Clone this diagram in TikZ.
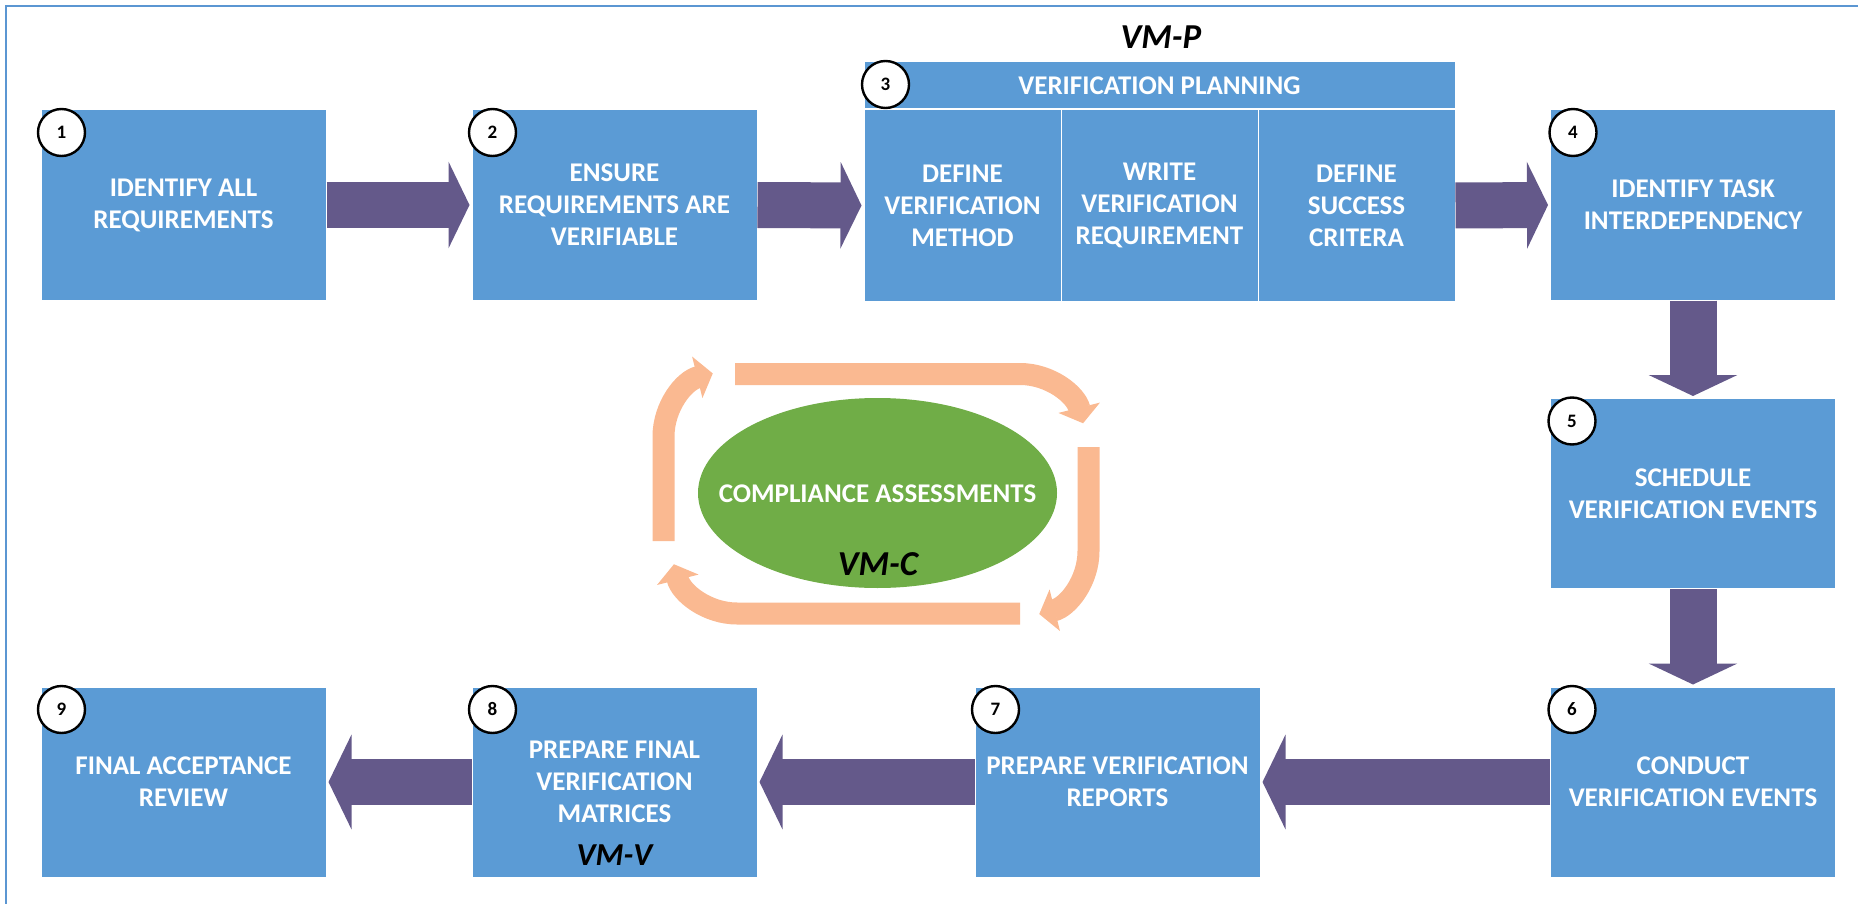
\documentclass[tikz,border=0pt]{standalone}
\usepackage{fontspec}
\setmainfont{Carlito}
\usetikzlibrary{arrows.meta,shapes.geometric,calc}
\definecolor{boxblue}{RGB}{91,155,213}
\definecolor{framecol}{RGB}{91,150,210}
\definecolor{arrowpurple}{RGB}{100,89,138}
\definecolor{loopor}{RGB}{250,185,145}
\definecolor{ellgreen}{RGB}{112,173,71}
\tikzset{
  stepbox/.style={rectangle, fill=boxblue, draw=white, line width=1pt, minimum width=285pt, minimum height=190pt, inner sep=0pt, align=center, text=white, font=\bfseries\fontsize{27}{32}\selectfont},
  cellbox/.style={stepbox, minimum width=197pt, minimum height=191pt},
  headbox/.style={stepbox, minimum width=591pt, minimum height=47pt},
  numcirc/.style={circle, fill=white, draw=black, line width=2.4pt, minimum size=47pt, inner sep=0pt, font=\bfseries\fontsize{19}{19}\selectfont},
  bigarrow/.style={draw=arrowpurple, line width=46pt, -{Triangle[width=86pt,length=21pt]}, shorten >=2pt},
  looparrow/.style={draw=loopor, line width=22pt, -{Triangle[width=42pt,length=16pt]}},
  vmlabel/.style={font=\bfseries\itshape\fontsize{35}{35}\selectfont, text=black, inner sep=0pt},
}
\begin{document}
\begin{tikzpicture}[x=1pt,y=1pt]
\useasboundingbox (0,0) rectangle (1858,-904);
\draw[framecol, line width=2pt] (6,-904) -- (6,-6) -- (1858,-6);

% top row
\node[stepbox] (b1) at (183.5,-205) {IDENTIFY ALL\\REQUIREMENTS};
\node[stepbox] (b2) at (614.5,-205) {ENSURE\\REQUIREMENTS ARE\\VERIFIABLE};
\node[headbox] (vp) at (1159.5,-85.5) {VERIFICATION PLANNING};
\node[cellbox] (c1) at (962.5,-205.5) {DEFINE\\VERIFICATION\\METHOD};
\node[cellbox] (c2) at (1159.5,-205.5) {WRITE\\VERIFICATION\\REQUIREMENT};
\node[cellbox] (c3) at (1356.5,-205.5) {DEFINE\\SUCCESS\\CRITERA};
\node[stepbox] (b4) at (1693,-205) {IDENTIFY TASK\\INTERDEPENDENCY};
\node[stepbox] (b5) at (1693,-493.5) {SCHEDULE\\VERIFICATION EVENTS};
\node[stepbox] (b6) at (1693,-782) {CONDUCT\\VERIFICATION EVENTS};
\node[stepbox] (b7) at (1117.5,-782) {PREPARE VERIFICATION\\REPORTS};
\node[stepbox] (b8) at (614.5,-782) {PREPARE FINAL\\VERIFICATION\\MATRICES};
\node[stepbox] (b9) at (183.5,-782) {FINAL ACCEPTANCE\\REVIEW};

% labels
\node[vmlabel] (vmp) at (1161,-37) {VM-P};
\node[vmlabel, font=\bfseries\itshape\fontsize{32}{32}\selectfont] (vmv) at (614.5,-855) {VM-V};

% connectors
\draw[bigarrow] (b1.east) -- (b2.west);
\draw[bigarrow] (b2.east) -- (c1.west);
\draw[bigarrow] (c3.east) -- (b4.west);
\draw[bigarrow, line width=47pt, -{Triangle[width=88pt,length=21pt]}] (b4.south) -- (b5.north);
\draw[bigarrow, line width=47pt, -{Triangle[width=88pt,length=21pt]}] (b5.south) -- (b6.north);
\draw[bigarrow, -{Triangle[width=94pt,length=23pt]}] (b6.west) -- (b7.east);
\draw[bigarrow, -{Triangle[width=94pt,length=23pt]}] (b7.west) -- (b8.east);
\draw[bigarrow, -{Triangle[width=94pt,length=23pt]}] (b8.west) -- (b9.east);

% number circles
\node[numcirc] (n1) at ($(b1.north west)+(21,-23)$) {1};
\node[numcirc] (n2) at ($(b2.north west)+(21,-23)$) {2};
\node[numcirc] (n3) at ($(vp.north west)+(22,-23)$) {3};
\node[numcirc] (n4) at ($(b4.north west)+(23,-23)$) {4};
\node[numcirc] (n5) at ($(b5.north west)+(22,-23)$) {5};
\node[numcirc] (n6) at ($(b6.north west)+(22,-23)$) {6};
\node[numcirc] (n7) at ($(b7.north west)+(21,-23)$) {7};
\node[numcirc] (n8) at ($(b8.north west)+(21,-23)$) {8};
\node[numcirc] (n9) at ($(b9.north west)+(21,-23)$) {9};

% compliance loop
\node[ellipse, fill=ellgreen, minimum width=359pt, minimum height=190pt, inner sep=0pt] (ca) at (877.5,-493) {};
\node[text=white, font=\bfseries\fontsize{27}{27}\selectfont, inner sep=0pt] (cat) at (877.5,-494) {COMPLIANCE ASSESSMENTS};
\node[vmlabel] (vmc) at (878,-564) {VM-C};

\draw[looparrow] (735,-374) -- (1020,-374) arc[start angle=90, end angle=14, radius=65];
\draw[looparrow] (1088.5,-447) -- (1088.5,-551) arc[start angle=0, end angle=-76, radius=65];
\draw[looparrow] (1020,-613.5) -- (737,-613.5) arc[start angle=-90, end angle=-166, radius=65];
\draw[looparrow] (663.5,-541) -- (663.5,-436.5) arc[start angle=180, end angle=104, radius=65];
\end{tikzpicture}
\end{document}
